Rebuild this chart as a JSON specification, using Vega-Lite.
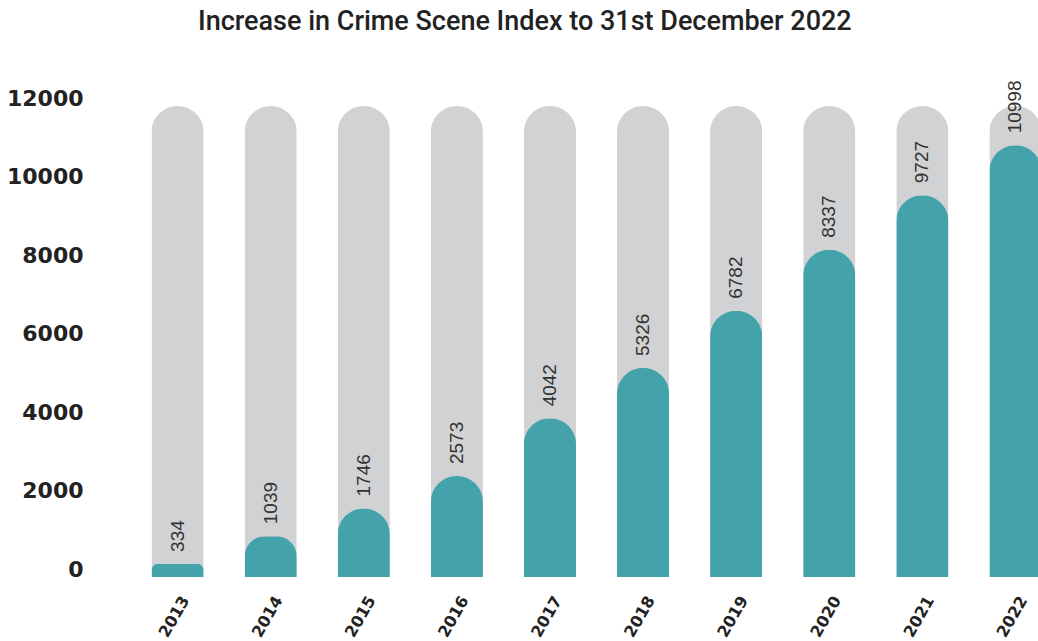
{
  "$schema": "https://vega.github.io/schema/vega-lite/v6.json",
  "width": 907,
  "height": 471,
  "autosize": "none",
  "padding": {"left": 131, "top": 106, "right": 0, "bottom": 64},
  "background": "white",
  "title": {
    "text": "Increase in Crime Scene Index to 31st December 2022",
    "anchor": "start",
    "frame": "group",
    "dx": 67,
    "offset": 44,
    "font": "Roboto",
    "fontSize": 27,
    "fontWeight": 500,
    "color": "#222222"
  },
  "config": {"view": {"stroke": null}},
  "data": {
    "values": [
      {"year": "2013", "value": 334, "max": 12000},
      {"year": "2014", "value": 1039, "max": 12000},
      {"year": "2015", "value": 1746, "max": 12000},
      {"year": "2016", "value": 2573, "max": 12000},
      {"year": "2017", "value": 4042, "max": 12000},
      {"year": "2018", "value": 5326, "max": 12000},
      {"year": "2019", "value": 6782, "max": 12000},
      {"year": "2020", "value": 8337, "max": 12000},
      {"year": "2021", "value": 9727, "max": 12000},
      {"year": "2022", "value": 10998, "max": 12000}
    ]
  },
  "encoding": {
    "x": {
      "field": "year",
      "type": "ordinal",
      "scale": {"range": [0, 931], "paddingInner": 0.44, "paddingOuter": 0.22},
      "axis": {
        "title": null,
        "domain": false,
        "ticks": false,
        "labelAngle": -60,
        "labelPadding": 20,
        "labelOffset": 8,
        "labelFont": "DejaVu Sans",
        "labelFontWeight": "bold",
        "labelFontSize": 16,
        "labelColor": "#222222"
      }
    }
  },
  "layer": [
    {
      "mark": {"type": "bar", "color": "#d1d2d4", "cornerRadiusTopLeft": 26, "cornerRadiusTopRight": 26},
      "encoding": {
        "y": {
          "field": "max",
          "type": "quantitative",
          "scale": {"domain": [0, 12000], "nice": false},
          "axis": {
            "title": null,
            "domain": false,
            "ticks": false,
            "grid": false,
            "values": [0, 2000, 4000, 6000, 8000, 10000, 12000],
            "format": "d",
            "labelPadding": 48,
            "labelOffset": -8,
            "labelFont": "DejaVu Sans",
            "labelFontWeight": "bold",
            "labelFontSize": 22,
            "labelColor": "#222222"
          }
        }
      }
    },
    {
      "mark": {"type": "bar", "color": "#44a2aa", "cornerRadiusTopLeft": 26, "cornerRadiusTopRight": 26},
      "encoding": {"y": {"field": "value", "type": "quantitative"}}
    },
    {
      "mark": {"type": "text", "angle": 270, "align": "left", "baseline": "middle", "dx": 12, "font": "Liberation Sans", "fontSize": 19, "color": "#333333"},
      "encoding": {
        "y": {"field": "value", "type": "quantitative"},
        "text": {"field": "value", "type": "quantitative", "format": "d"}
      }
    }
  ]
}
